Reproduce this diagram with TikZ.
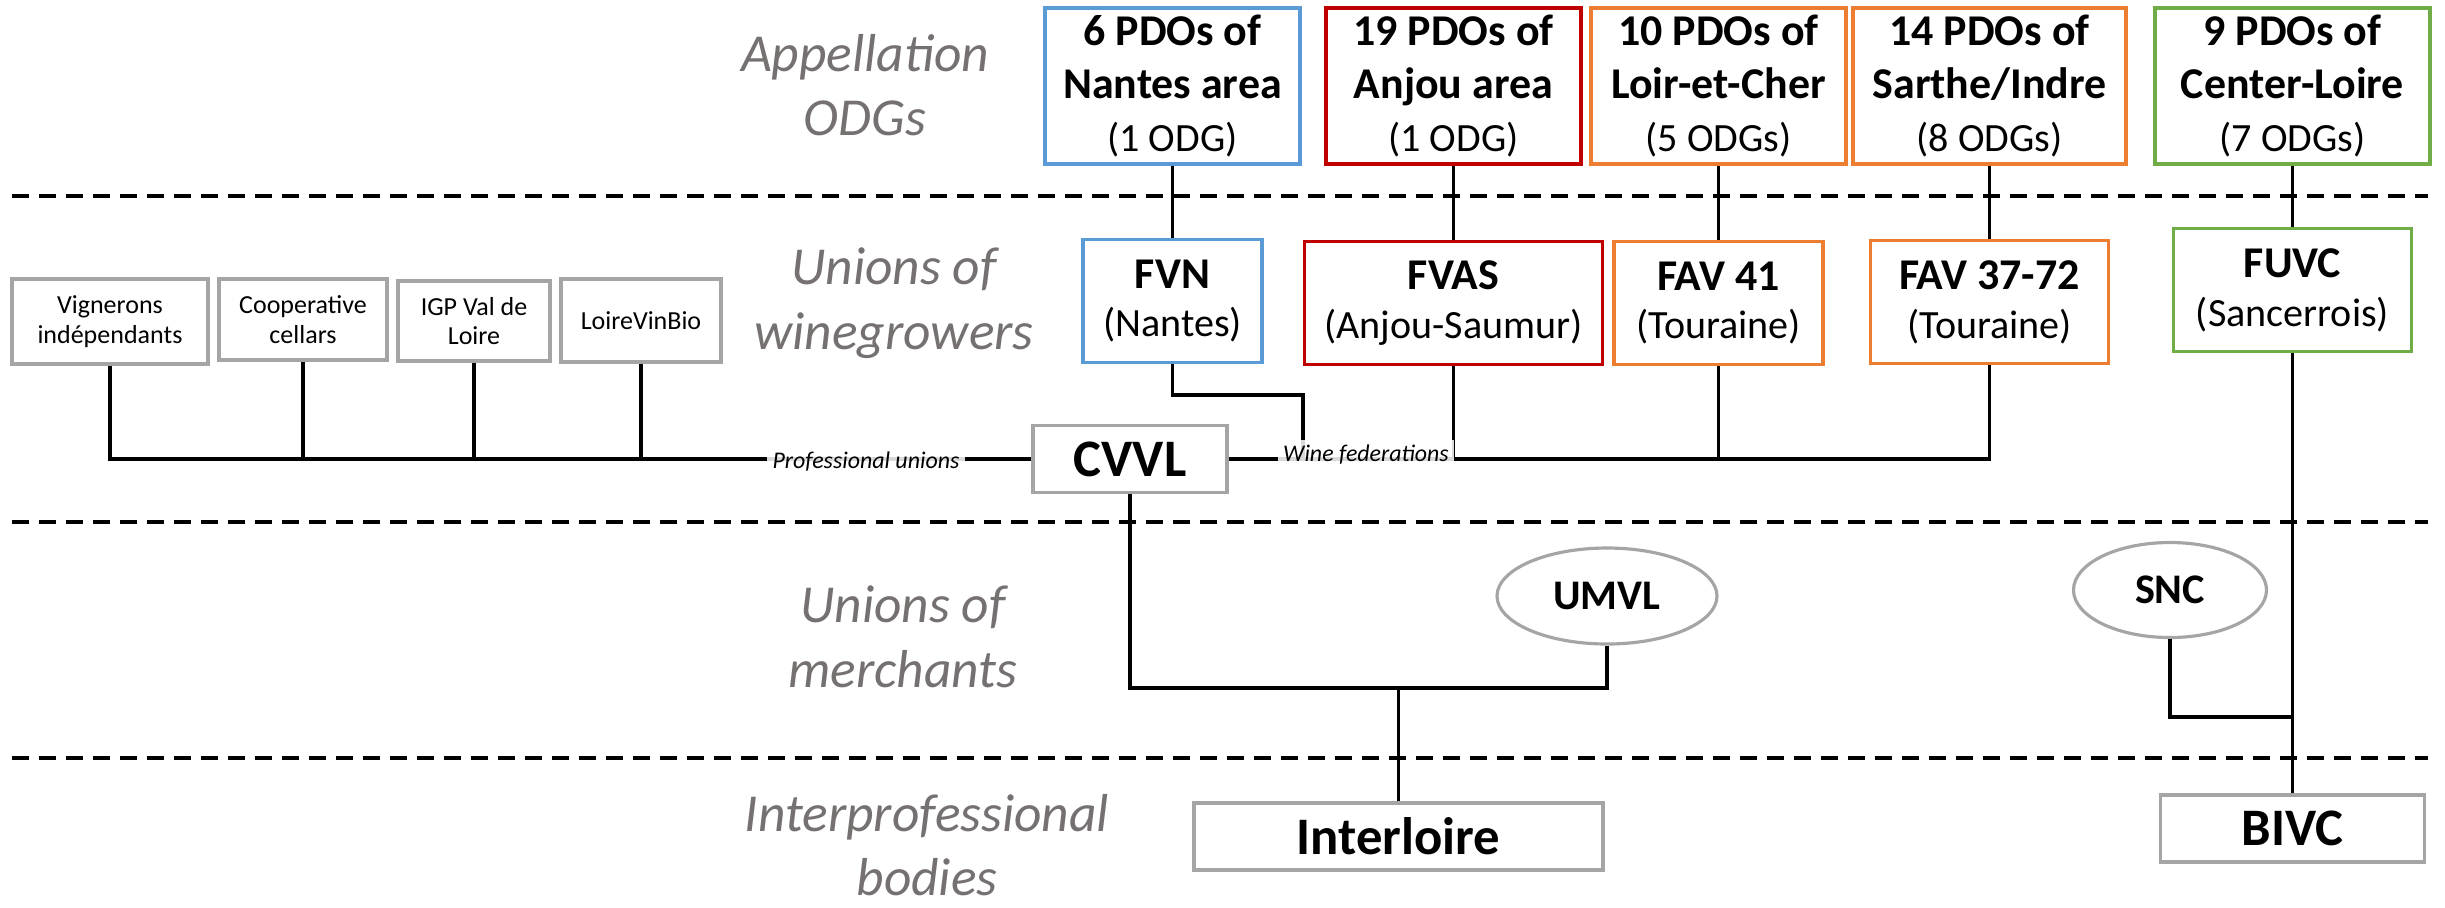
\documentclass[tikz,border=0pt]{standalone}
\usepackage{fontspec}
\setmainfont{Carlito}
\usepackage{tikz}
\usetikzlibrary{shapes,arrows,positioning}

\definecolor{nantesblue}{HTML}{5B9BD5}
\definecolor{anjoured}{HTML}{C00000}
\definecolor{tourorange}{HTML}{ED7D31}
\definecolor{centregreen}{HTML}{70AD47}
\definecolor{boxgray}{HTML}{A5A5A5}
\definecolor{labelgray}{HTML}{767171}

\newcommand{\boxhead}[1]{{\fontsize{12.5}{15.1}\selectfont\bfseries #1}}

\begin{document}
\begin{tikzpicture}
    [x=0.1mm, y=-0.1mm,
layer/.style={text=labelgray, align=center, inner sep=0pt, font=\itshape\fontsize{15.2}{18.4}\selectfont},
odg/.style={rectangle, draw, line width=0.9pt, align=center, inner sep=0pt,
  minimum height=15.6mm, font=\fontsize{11.4}{15.1}\selectfont},
fed/.style={rectangle, draw, line width=0.9pt, align=center, inner sep=0pt,
  minimum height=12.3mm, font=\fontsize{11.4}{13.9}\selectfont},
prof/.style={rectangle, draw=boxgray, line width=0.9pt, align=center, inner sep=0pt,
  font=\fontsize{7.4}{8.5}\selectfont},
body/.style={rectangle, draw=boxgray, line width=0.9pt, inner sep=0pt,
  minimum height=6.7mm, font=\bfseries\fontsize{15}{17}\selectfont},
merch/.style={ellipse, draw=boxgray, line width=0.9pt, inner sep=0pt,
  font=\bfseries\fontsize{12}{14}\selectfont},
tag/.style={fill=white, fill opacity=0.85, text opacity=1, inner sep=1.5pt,
  font=\itshape\fontsize{6.8}{8}\selectfont},
sep/.style={line width=1.1pt, dash pattern=on 1.7mm off 1mm},
link/.style={line width=0.6pt},
bus/.style={line width=1.1pt}
]
\useasboundingbox (0,0) rectangle (2445,907);

  \node[layer] (lodg) at (865,85) {Appellation\\ODGs};
  \node[layer] (lwin) at (894,303) {Unions of\\winegrowers};
  \node[layer] (lmer) at (903,637) {Unions of\\merchants};
  \node[layer] (lint) at (927,845) {Interprofessional\\bodies};

  \draw[sep] (12,196) -- (2428,196);
  \draw[sep] (12,522) -- (2428,522);
  \draw[sep] (12,758) -- (2428,758);

  \node[odg,draw=nantesblue,minimum width=25.5mm] (nantes) at (1172.5,86)
    {\boxhead{6 PDOs of}\\\boxhead{Nantes area}\\(1 ODG)};
  \node[odg,draw=anjoured,minimum width=25.5mm] (anjou) at (1453.5,86)
    {\boxhead{19 PDOs of}\\\boxhead{Anjou area}\\(1 ODG)};
  \node[odg,draw=tourorange,minimum width=25.5mm] (loir) at (1718.5,86)
    {\boxhead{10 PDOs of}\\\boxhead{Loir-et-Cher}\\(5 ODGs)};
  \node[odg,draw=tourorange,minimum width=27.3mm] (sarthe) at (1989.5,86)
    {\boxhead{14 PDOs of}\\\boxhead{Sarthe/Indre}\\(8 ODGs)};
  \node[odg,draw=centregreen,minimum width=27.5mm] (centre) at (2292.5,86)
    {\boxhead{9 PDOs of}\\\boxhead{Center-Loire}\\(7 ODGs)};

  \node[fed,draw=nantesblue,minimum width=17.9mm] (fvn) at (1172.5,301) {\boxhead{FVN}\\(Nantes)};
  \node[fed,draw=anjoured,minimum width=29.8mm] (fvas) at (1453.5,303) {\boxhead{FVAS}\\(Anjou-Saumur)};
  \node[fed,draw=tourorange,minimum width=20.9mm] (fav41) at (1718.5,303) {\boxhead{FAV 41}\\(Touraine)};
  \node[fed,draw=tourorange,minimum width=23.8mm] (fav72) at (1989.5,302) {\boxhead{FAV 37-72}\\(Touraine)};
  \node[fed,draw=centregreen,minimum width=23.8mm] (fuvc) at (2292.5,290) {\boxhead{FUVC}\\(Sancerrois)};

  \node[prof,minimum width=19.6mm,minimum height=8.5mm] (vig) at (110,321.5) {Vignerons\\indépendants};
  \node[prof,minimum width=16.8mm,minimum height=8.1mm] (coop) at (303,319.5) {Cooperative\\cellars};
  \node[prof,minimum width=15.2mm,minimum height=8mm] (igp) at (474,321) {IGP Val de\\Loire};
  \node[prof,minimum width=16mm,minimum height=8.3mm] (lvb) at (641,320.5) {LoireVinBio};

  \node[body,minimum width=19.4mm] (cvvl) at (1130,459) {CVVL};
  \node[merch,minimum width=22mm,minimum height=9.6mm] (umvl) at (1607,596) {UMVL};
  \node[merch,minimum width=19.3mm,minimum height=9.5mm] (snc) at (2170,590) {SNC};
  \node[body,minimum width=40.9mm] (interloire) at (1398.5,836.5) {Interloire};
  \node[body,minimum width=26.4mm] (bivc) at (2292.5,828.5) {BIVC};

  \coordinate (fvnjoin) at (1303,459);
  \coordinate (merge) at (1398.5,688);
  \coordinate (sncjoin) at (2292.5,717);

  \draw[link] (nantes) -- (fvn);
  \draw[link] (anjou) -- (fvas);
  \draw[link] (loir) -- (fav41);
  \draw[link] (sarthe) -- (fav72);
  \draw[link] (centre) -- (fuvc);

  \draw[bus] (vig.south) |- (cvvl.west);
  \draw[bus] (coop.south) -- (coop.south |- cvvl.west);
  \draw[bus] (igp.south) -- (igp.south |- cvvl.west);
  \draw[bus] (lvb.south) -- (lvb.south |- cvvl.west);
  \draw[bus] (cvvl.east) -| (fav72.south);
  \draw[bus] (fvas.south) -- (fvas.south |- cvvl.east);
  \draw[bus] (fav41.south) -- (fav41.south |- cvvl.east);
  \draw[bus] (fvn.south) -- ++(0,31) -| (fvnjoin);

  \node[tag] (profu) at (866,462) {Professional unions};
  \node[tag] (winef) at (1366,455) {Wine federations};

  \draw[bus] (cvvl.south) |- (merge) -| (umvl.south);
  \draw[bus] (merge) -- (interloire.north);
  \draw[bus] (fuvc.south) -- (bivc.north);
  \draw[bus] (snc.south) |- (sncjoin);
\end{tikzpicture}
\end{document}
